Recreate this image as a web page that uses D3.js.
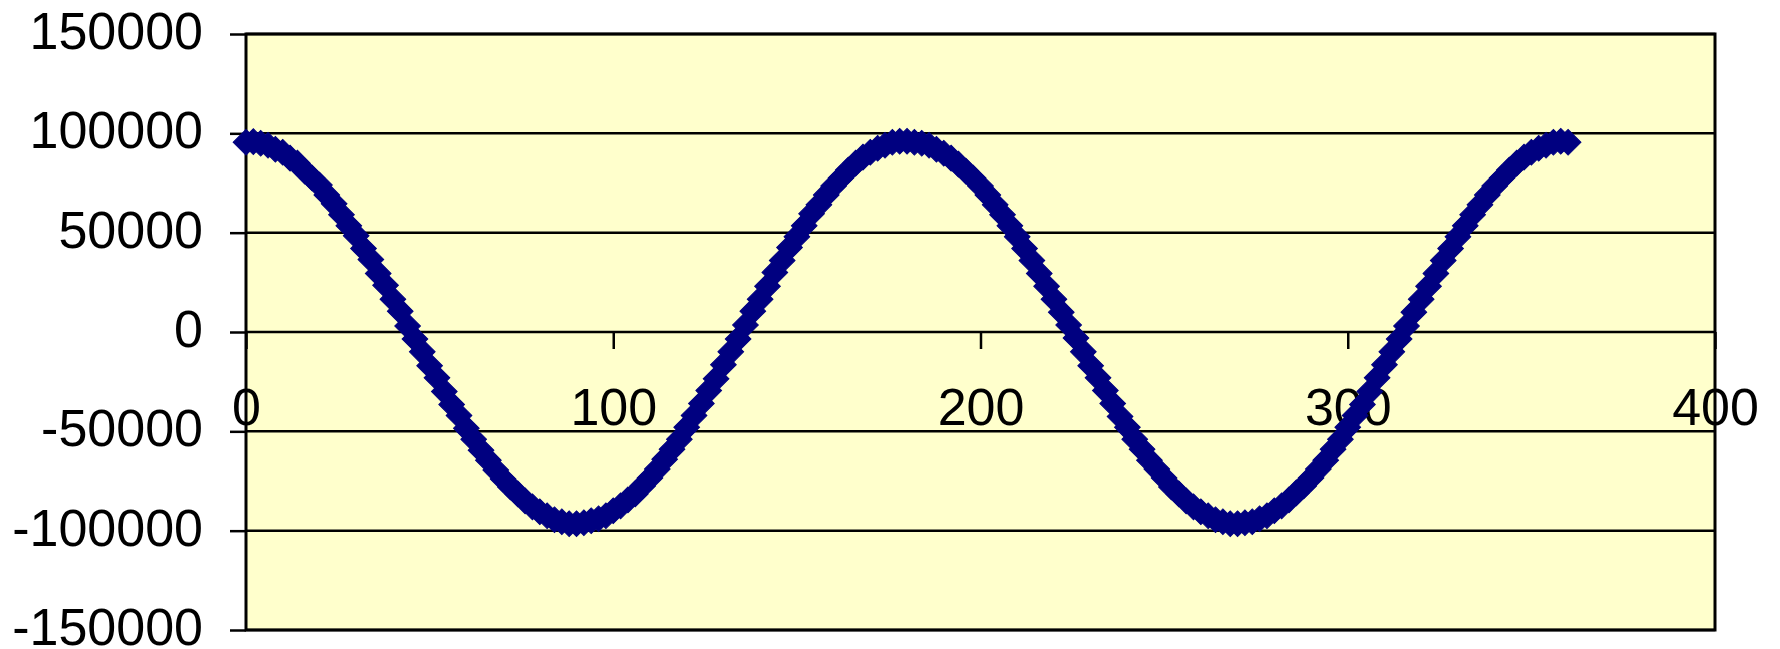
<!DOCTYPE html>
<html lang="en">
<head>
<meta charset="utf-8">
<title>Scatter chart</title>
<script src="https://cdn.jsdelivr.net/npm/d3@7"></script>
<style>
  html, body { margin: 0; padding: 0; background: #ffffff; }
  svg { display: block; }
  text { font-family: "Liberation Sans", Arial, sans-serif; fill: #000000; }
</style>
</head>
<body>
<svg id="chart" width="1780" height="649"></svg>
<script>
/**x values (degrees)*/
var xValues = [
  0, 2, 4, 6, 8, 10, 12, 14, 16, 18, 20, 22, 24, 26, 28, 30, 32, 34, 36, 38, 40, 42, 44,
  46, 48, 50, 52, 54, 56, 58, 60, 62, 64, 66, 68, 70, 72, 74, 76, 78, 80, 82, 84, 86, 88, 90,
  92, 94, 96, 98, 100, 102, 104, 106, 108, 110, 112, 114, 116, 118, 120, 122, 124, 126, 128, 130, 132, 134,
  136, 138, 140, 142, 144, 146, 148, 150, 152, 154, 156, 158, 160, 162, 164, 166, 168, 170, 172, 174, 176, 178, 180,
  182, 184, 186, 188, 190, 192, 194, 196, 198, 200, 202, 204, 206, 208, 210, 212, 214, 216, 218, 220, 222, 224,
  226, 228, 230, 232, 234, 236, 238, 240, 242, 244, 246, 248, 250, 252, 254, 256, 258, 260, 262, 264, 266, 268, 270,
  272, 274, 276, 278, 280, 282, 284, 286, 288, 290, 292, 294, 296, 298, 300, 302, 304, 306, 308, 310, 312, 314,
  316, 318, 320, 322, 324, 326, 328, 330, 332, 334, 336, 338, 340, 342, 344, 346, 348, 350, 352, 354, 356, 358, 360
];
/**y values estimated from the markers*/
var yValues = [
  95500, 95800, 95000, 94000, 92000, 90500, 87500, 85000, 81000, 77500, 74000, 69000, 64500, 59000, 53500, 48500, 42000, 36500, 29500, 23500, 16500, 10500, 3000,
  -3500, -10000, -17000, -23000, -30000, -36500, -42000, -48500, -54000, -59500, -64500, -69500, -74000, -78000, -81500, -85000, -88000, -90500, -92500, -94500, -95500, -96500, -96500,
  -96000, -95000, -94000, -92500, -90000, -87500, -84500, -81500, -77500, -73500, -69000, -64000, -59000, -54000, -48000, -42000, -36000, -29500, -23500, -16500, -10000, -3500,
  3500, 10500, 16500, 23000, 30000, 36000, 42500, 48000, 53500, 59500, 64000, 69000, 73500, 77500, 81500, 85000, 88000, 90500, 92500, 94000, 95500, 96000, 96000,
  95500, 95000, 94000, 92000, 90000, 87500, 84500, 81000, 77500, 73500, 69000, 64000, 59000, 53500, 48000, 42000, 36000, 29500, 23000, 16500, 10000, 3500,
  -3000, -10000, -17000, -23000, -29500, -36000, -42500, -48000, -54000, -59000, -64500, -69000, -73500, -78000, -81500, -85000, -88000, -90500, -92500, -94500, -95500, -96500, -96500,
  -96000, -95500, -94000, -92500, -90000, -87500, -84500, -81000, -77500, -73500, -69000, -64500, -59000, -54000, -48000, -42000, -36500, -30000, -23000, -16500, -10000, -3500,
  3000, 10000, 16500, 23000, 29500, 36000, 42000, 48000, 53500, 59000, 64000, 69000, 73500, 77500, 81500, 85000, 88000, 90500, 92500, 94000, 95500, 96000, 95500
];
/**axis ticks*/
var xTicks = [0, 100, 200, 300, 400];
var yTicks = [-150000, -100000, -50000, 0, 50000, 100000, 150000];

var data = xValues.map(function(x, i) { return { x: x, y: yValues[i] }; });

/**plot area*/
var svg = d3.select("#chart"),
    plotLeft = 246, plotRight = 1715, plotTop = 34, plotBottom = 630;

var xScale = d3.scaleLinear().domain([0, 400]).range([plotLeft, plotRight]),
    yScale = d3.scaleLinear().domain([-150000, 150000]).range([plotBottom, plotTop]);

/**yellow background*/
svg.append("rect")
   .attr("x", plotLeft).attr("y", plotTop)
   .attr("width", plotRight - plotLeft).attr("height", plotBottom - plotTop)
   .attr("fill", "#ffffcc");

/**horizontal gridlines*/
svg.append("g")
   .selectAll("line")
   .data(yTicks)
   .enter().append("line")
   .attr("x1", plotLeft).attr("x2", plotRight)
   .attr("y1", function(d) { return yScale(d); })
   .attr("y2", function(d) { return yScale(d); })
   .attr("stroke", "#000").attr("stroke-width", 2.5);

/**y axis, ticks stick out to the left*/
var yAxis = svg.append("g")
   .attr("transform", "translate(" + plotLeft + ",0)")
   .call(d3.axisLeft(yScale).tickValues(yTicks).tickSize(16).tickPadding(27)
     .tickFormat(function(d) { return d; }));
yAxis.select(".domain").remove();
yAxis.selectAll("line").attr("stroke", "#000").attr("stroke-width", 2.5);
yAxis.selectAll("text")
   .attr("font-size", 52)
   .attr("dy", "0.28em")
   .attr("font-family", "Liberation Sans, Arial, sans-serif")
   .attr("fill", "#000");

/**x axis crosses at y = 0*/
var xAxis = svg.append("g")
   .attr("transform", "translate(0," + yScale(0) + ")")
   .call(d3.axisBottom(xScale).tickValues(xTicks).tickSize(17).tickPadding(39)
     .tickFormat(function(d) { return d; }));
xAxis.select(".domain").remove();
xAxis.selectAll("line").attr("stroke", "#000").attr("stroke-width", 2.5);
xAxis.selectAll("text")
   .attr("font-size", 52)
   .attr("font-family", "Liberation Sans, Arial, sans-serif")
   .attr("fill", "#000");

/**plot border*/
svg.append("rect")
   .attr("x", plotLeft).attr("y", plotTop)
   .attr("width", plotRight - plotLeft).attr("height", plotBottom - plotTop)
   .attr("fill", "none")
   .attr("stroke", "#000").attr("stroke-width", 3);

/**diamond markers*/
var diamond = d3.symbol().type(d3.symbolSquare).size(330);
svg.append("g")
   .selectAll("path")
   .data(data)
   .enter().append("path")
   .attr("d", diamond)
   .attr("transform", function(d) {
     return "translate(" + xScale(d.x) + "," + yScale(d.y) + ") rotate(45)";
   })
   .attr("fill", "#000080")
   .attr("stroke", "#000080")
   .attr("stroke-width", 1);
</script>
</body>
</html>
